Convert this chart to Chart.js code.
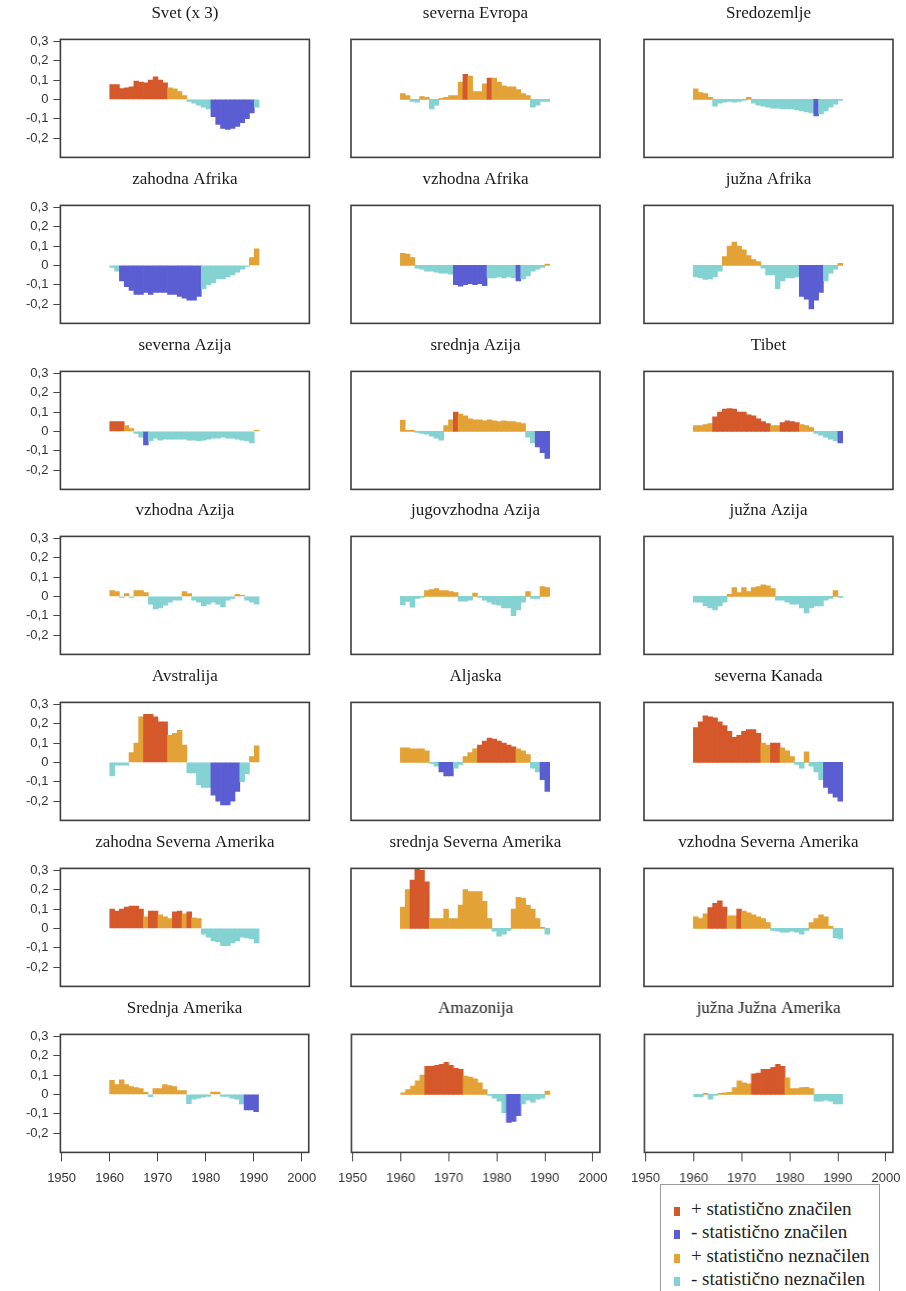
<!DOCTYPE html>
<html>
<head>
<meta charset="utf-8">
<script src="https://cdn.jsdelivr.net/npm/chart.js@4.4.1/dist/chart.umd.min.js"></script>
<style>
  body { margin: 0; background: #fff; width: 906px; height: 1291px; overflow: hidden; position: relative; }
  canvas { position: absolute; }
  #legenda { position: absolute; left: 660px; top: 1184px; width: 218px; height: 140px;
    border: 1px solid #9a9a9a; font: 19px "Liberation Serif", serif; color: #222; }
  .vrstica { position: absolute; left: 13px; height: 24px; line-height: 24px; white-space: nowrap; }
  .kvadrat { display: inline-block; width: 6px; height: 9px; margin-right: 11px; vertical-align: -1px; }
</style>
</head>
<body>
<div id="legenda"></div>
<script>
// leta (1960-1990), en stolpec na leto
const leta = [1960, 1961, 1962, 1963, 1964, 1965, 1966, 1967, 1968, 1969,
  1970, 1971, 1972, 1973, 1974, 1975, 1976, 1977, 1978, 1979,
  1980, 1981, 1982, 1983, 1984, 1985, 1986, 1987, 1988, 1989, 1990];
const xOznake = [1950, 1960, 1970, 1980, 1990, 2000];
const yOznake = [0.3, 0.2, 0.1, 0, -0.1, -0.2];

const naslovi = ["Svet (x 3)", "severna Evropa", "Sredozemlje",
  "zahodna Afrika", "vzhodna Afrika", "južna Afrika",
  "severna Azija", "srednja Azija", "Tibet",
  "vzhodna Azija", "jugovzhodna Azija", "južna Azija",
  "Avstralija", "Aljaska", "severna Kanada",
  "zahodna Severna Amerika", "srednja Severna Amerika", "vzhodna Severna Amerika",
  "Srednja Amerika", "Amazonija", "južna Južna Amerika"];

const legenda = ["+ statistično značilen", "- statistično značilen",
  "+ statistično neznačilen", "- statistično neznačilen"];

// vrednosti po letih in statistična značilnost (1 = značilno)
const svet = [0.077, 0.077, 0.056, 0.06, 0.065, 0.094, 0.09, 0.085, 0.1, 0.116, 0.1, 0.085, 0.06, 0.055, 0.04, 0.02, -0.01, -0.02, -0.03, -0.04, -0.05, -0.09, -0.13, -0.15, -0.155, -0.15, -0.14, -0.12, -0.1, -0.07, -0.04];
const svetZn = [1,1,1,1,1,1,1,1,1,1, 1,1,0,0,0,0,0,0,0,0, 0,1,1,1,1,1,1,1,1,1, 0];

const severnaEvropa = [0.03, 0.02, -0.01, -0.015, 0.015, 0.01, -0.05, -0.03, 0.005, 0.01, 0.02, 0.02, 0.09, 0.13, 0.12, 0.04, 0.04, 0.08, 0.11, 0.11, 0.09, 0.07, 0.065, 0.065, 0.05, 0.03, 0.02, -0.04, -0.03, -0.01, -0.01];
const severnaEvropaZn = [0,0,0,0,0,0,0,0,0,0, 0,0,0,1,0,0,0,0,1,0, 0,0,0,0,0,0,0,0,0,0, 0];

const sredozemlje = [0.055, 0.035, 0.03, 0.01, -0.035, -0.02, -0.015, -0.01, -0.015, -0.01, -0.005, 0.01, -0.02, -0.03, -0.035, -0.04, -0.045, -0.045, -0.05, -0.05, -0.05, -0.055, -0.06, -0.065, -0.07, -0.085, -0.075, -0.06, -0.04, -0.025, -0.005];
const sredozemljeZn = [0,0,0,0,0,0,0,0,0,0, 0,0,0,0,0,0,0,0,0,0, 0,0,0,0,0,1,0,0,0,0, 0];

const zahodnaAfrika = [-0.01, -0.03, -0.08, -0.11, -0.13, -0.15, -0.15, -0.14, -0.15, -0.14, -0.14, -0.14, -0.15, -0.15, -0.16, -0.17, -0.18, -0.18, -0.16, -0.12, -0.1, -0.09, -0.07, -0.07, -0.06, -0.05, -0.035, -0.02, -0.005, 0.04, 0.085];
const zahodnaAfrikaZn = [0,0,1,1,1,1,1,1,1,1, 1,1,1,1,1,1,1,1,1,0, 0,0,0,0,0,0,0,0,0,0, 0];

const vzhodnaAfrika = [0.062, 0.058, 0.04, -0.015, -0.02, -0.03, -0.03, -0.035, -0.04, -0.04, -0.045, -0.1, -0.107, -0.1, -0.095, -0.1, -0.095, -0.105, -0.065, -0.065, -0.06, -0.065, -0.06, -0.065, -0.08, -0.07, -0.055, -0.03, -0.02, -0.01, 0.007];
const vzhodnaAfrikaZn = [0,0,0,0,0,0,0,0,0,0, 0,1,1,1,1,1,1,1,0,0, 0,0,0,0,1,0,0,0,0,0, 0];

const juznaAfrika = [-0.06, -0.065, -0.072, -0.07, -0.06, -0.03, 0.045, 0.1, 0.12, 0.1, 0.08, 0.05, 0.03, 0.02, -0.015, -0.05, -0.05, -0.12, -0.08, -0.065, -0.065, -0.06, -0.16, -0.175, -0.225, -0.18, -0.14, -0.08, -0.04, -0.02, 0.01];
const juznaAfrikaZn = [0,0,0,0,0,0,0,0,0,0, 0,0,0,0,0,0,0,0,0,0, 0,0,1,1,1,1,1,0,0,0, 0];

const severnaAzija = [0.05, 0.05, 0.05, 0.03, 0.015, -0.01, -0.03, -0.07, -0.05, -0.035, -0.045, -0.04, -0.04, -0.04, -0.04, -0.04, -0.045, -0.045, -0.048, -0.045, -0.04, -0.035, -0.035, -0.03, -0.035, -0.035, -0.04, -0.045, -0.05, -0.06, 0.005];
const severnaAzijaZn = [1,1,1,0,0,0,0,1,0,0, 0,0,0,0,0,0,0,0,0,0, 0,0,0,0,0,0,0,0,0,0, 0];

const srednjaAzija = [0.058, 0.005, 0.005, -0.005, -0.01, -0.015, -0.025, -0.035, -0.045, 0.03, 0.06, 0.1, 0.09, 0.08, 0.065, 0.06, 0.06, 0.055, 0.06, 0.055, 0.05, 0.055, 0.05, 0.05, 0.045, 0.04, -0.03, -0.06, -0.08, -0.11, -0.14];
const srednjaAzijaZn = [0,0,0,0,0,0,0,0,0,0, 0,1,0,0,0,0,0,0,0,0, 0,0,0,0,0,0,0,0,1,1, 1];

const tibet = [0.03, 0.03, 0.035, 0.04, 0.075, 0.1, 0.115, 0.118, 0.115, 0.1, 0.1, 0.085, 0.08, 0.065, 0.05, 0.04, 0.03, 0.03, 0.045, 0.055, 0.05, 0.045, 0.035, 0.03, 0.02, -0.01, -0.02, -0.03, -0.04, -0.05, -0.06];
const tibetZn = [0,0,0,0,1,1,1,1,1,1, 1,1,1,1,1,1,0,0,1,1, 1,1,0,0,0,0,0,0,0,0, 1];

const vzhodnaAzija = [0.03, 0.025, -0.005, 0.015, -0.005, 0.03, 0.03, 0.02, -0.04, -0.065, -0.06, -0.045, -0.03, -0.02, -0.02, 0.025, 0.015, -0.02, -0.03, -0.05, -0.04, -0.03, -0.04, -0.055, -0.02, -0.01, 0.01, 0.005, -0.02, -0.03, -0.04];
const vzhodnaAzijaZn = [0,0,0,0,0,0,0,0,0,0, 0,0,0,0,0,0,0,0,0,0, 0,0,0,0,0,0,0,0,0,0, 0];

const jugovzhodnaAzija = [-0.043, -0.026, -0.056, -0.01, -0.005, 0.03, 0.035, 0.04, 0.03, 0.03, 0.025, 0.02, -0.025, -0.025, -0.02, 0.017, -0.005, -0.02, -0.03, -0.04, -0.045, -0.06, -0.06, -0.1, -0.07, -0.03, 0.025, -0.01, -0.01, 0.05, 0.045];
const jugovzhodnaAzijaZn = [0,0,0,0,0,0,0,0,0,0, 0,0,0,0,0,0,0,0,0,0, 0,0,0,0,0,0,0,0,0,0, 0];

const juznaAzija = [-0.03, -0.03, -0.05, -0.06, -0.07, -0.05, -0.03, 0.01, 0.045, 0.02, 0.045, 0.025, 0.045, 0.05, 0.06, 0.055, 0.04, -0.02, -0.02, -0.03, -0.04, -0.04, -0.06, -0.085, -0.06, -0.05, -0.05, -0.02, -0.01, 0.03, -0.005];
const juznaAzijaZn = [0,0,0,0,0,0,0,0,0,0, 0,0,0,0,0,0,0,0,0,0, 0,0,0,0,0,0,0,0,0,0, 0];

const avstralija = [-0.07, -0.015, -0.015, -0.015, 0.05, 0.1, 0.235, 0.248, 0.248, 0.235, 0.21, 0.21, 0.14, 0.15, 0.165, 0.09, -0.055, -0.055, -0.115, -0.13, -0.13, -0.17, -0.2, -0.22, -0.22, -0.2, -0.15, -0.1, -0.06, 0.03, 0.085];
const avstralijaZn = [0,0,0,0,0,0,0,1,1,1, 1,1,0,0,0,0,0,0,0,0, 0,1,1,1,1,1,1,0,0,0, 0];

const aljaska = [0.075, 0.075, 0.07, 0.07, 0.07, 0.06, -0.005, -0.02, -0.05, -0.07, -0.07, -0.03, -0.01, 0.03, 0.05, 0.07, 0.09, 0.11, 0.125, 0.12, 0.11, 0.1, 0.09, 0.08, 0.07, 0.06, 0.04, -0.03, -0.05, -0.09, -0.15];
const aljaskaZn = [0,0,0,0,0,0,0,0,1,1, 1,0,0,0,0,0,1,1,1,1, 1,1,1,1,0,0,0,0,0,1, 1];

const severnaKanada = [0.18, 0.21, 0.24, 0.235, 0.23, 0.21, 0.19, 0.16, 0.13, 0.14, 0.16, 0.17, 0.17, 0.15, 0.1, 0.09, 0.1, 0.1, 0.075, 0.06, 0.03, -0.01, -0.03, 0.055, -0.02, -0.05, -0.09, -0.13, -0.16, -0.18, -0.2];
const severnaKanadaZn = [1,1,1,1,1,1,1,1,1,1, 1,1,1,1,0,0,1,1,0,0, 0,0,0,0,0,0,0,1,1,1, 1];

const zahodnaSevernaAmerika = [0.1, 0.09, 0.1, 0.11, 0.115, 0.115, 0.1, 0.06, 0.09, 0.09, 0.07, 0.06, 0.05, 0.085, 0.09, 0.075, 0.085, 0.055, 0.05, -0.03, -0.045, -0.065, -0.07, -0.09, -0.09, -0.075, -0.065, -0.045, -0.05, -0.055, -0.075];
const zahodnaSevernaAmerikaZn = [1,1,1,1,1,1,1,0,1,1, 0,0,0,1,1,0,1,0,0,0, 0,0,0,0,0,0,0,0,0,0, 0];

const srednjaSevernaAmerika = [0.11, 0.2, 0.25, 0.31, 0.3, 0.24, 0.05, 0.05, 0.05, 0.1, 0.05, 0.05, 0.12, 0.2, 0.19, 0.19, 0.19, 0.14, 0.05, -0.015, -0.04, -0.03, -0.01, 0.1, 0.16, 0.155, 0.12, 0.1, 0.05, 0.005, -0.03];
const srednjaSevernaAmerikaZn = [0,0,1,1,1,1,0,0,0,0, 0,0,0,0,0,0,0,0,0,0, 0,0,0,0,0,0,0,0,0,0, 0];

const vzhodnaSevernaAmerika = [0.06, 0.05, 0.075, 0.108, 0.13, 0.142, 0.11, 0.065, 0.065, 0.1, 0.09, 0.08, 0.07, 0.06, 0.05, 0.03, -0.01, -0.015, -0.02, -0.02, -0.015, -0.02, -0.03, -0.01, 0.03, 0.05, 0.07, 0.06, 0.01, -0.05, -0.055];
const vzhodnaSevernaAmerikaZn = [0,0,0,1,1,1,1,0,0,1, 0,0,0,0,0,0,0,0,0,0, 0,0,0,0,0,0,0,0,0,0, 0];

const srednjaAmerika = [0.072, 0.05, 0.075, 0.05, 0.04, 0.035, 0.03, 0.01, -0.012, 0.03, 0.03, 0.05, 0.045, 0.04, 0.02, 0.02, -0.048, -0.025, -0.02, -0.015, -0.01, 0.012, 0.012, -0.01, -0.01, -0.02, -0.025, -0.05, -0.08, -0.08, -0.09];
const srednjaAmerikaZn = [0,0,0,0,0,0,0,0,0,0, 0,0,0,0,0,0,0,0,0,0, 0,0,0,0,0,0,0,0,1,1, 1];

const amazonija = [0.008, 0.025, 0.043, 0.07, 0.1, 0.145, 0.145, 0.15, 0.155, 0.165, 0.15, 0.135, 0.13, 0.095, 0.09, 0.08, 0.06, 0.025, -0.005, -0.02, -0.035, -0.095, -0.145, -0.14, -0.11, -0.05, -0.03, -0.04, -0.025, -0.02, 0.017];
const amazonijaZn = [0,0,0,0,0,1,1,1,1,1, 1,1,1,0,0,0,0,0,0,0, 0,0,1,1,1,0,0,0,0,0, 0];

const juznaJuznaAmerika = [-0.012, -0.012, 0.005, -0.025, -0.005, 0.005, 0.008, 0.01, 0.035, 0.07, 0.06, 0.055, 0.106, 0.11, 0.13, 0.13, 0.14, 0.155, 0.145, 0.085, 0.03, 0.03, 0.035, 0.037, 0.03, -0.035, -0.035, -0.03, -0.035, -0.05, -0.05];
const juznaJuznaAmerikaZn = [0,0,0,0,0,0,0,0,0,0, 0,0,1,1,1,1,1,1,1,0, 0,0,0,0,0,0,0,0,0,0, 0];

const vrednosti = [svet, severnaEvropa, sredozemlje, zahodnaAfrika, vzhodnaAfrika, juznaAfrika,
  severnaAzija, srednjaAzija, tibet, vzhodnaAzija, jugovzhodnaAzija, juznaAzija,
  avstralija, aljaska, severnaKanada, zahodnaSevernaAmerika, srednjaSevernaAmerika, vzhodnaSevernaAmerika,
  srednjaAmerika, amazonija, juznaJuznaAmerika];
const znacilnost = [svetZn, severnaEvropaZn, sredozemljeZn, zahodnaAfrikaZn, vzhodnaAfrikaZn, juznaAfrikaZn,
  severnaAzijaZn, srednjaAzijaZn, tibetZn, vzhodnaAzijaZn, jugovzhodnaAzijaZn, juznaAzijaZn,
  avstralijaZn, aljaskaZn, severnaKanadaZn, zahodnaSevernaAmerikaZn, srednjaSevernaAmerikaZn, vzhodnaSevernaAmerikaZn,
  srednjaAmerikaZn, amazonijaZn, juznaJuznaAmerikaZn];

const barve = ["#d5582b", "#5b5ed3", "#e3a236", "#84d2d2"]; // +zn, -zn, +nezn, -nezn

function barva(v, zn) {
  if (zn) return v >= 0 ? barve[0] : barve[1];
  return v >= 0 ? barve[2] : barve[3];
}

function oznakaY(v) {
  return v === 0 ? "0" : v.toFixed(1).replace(".", ",");
}

// postavitev okvirjev
const stolpciX = [60, 351, 644];
const vrsticeY = [39, 205, 371, 536, 702, 868, 1034];
const SIRINA = 249;
const VISINA = 118;

const pisavaOsi = { family: '"Liberation Sans", Arial, sans-serif', size: 13 };

// okvir okrog risalne ploskve
const okvir = {
  id: "okvir",
  afterDatasetsDraw(chart) {
    const { ctx, chartArea: a } = chart;
    ctx.save();
    ctx.strokeStyle = "#3d3d3d";
    ctx.lineWidth = 1.6;
    ctx.strokeRect(a.left, a.top, a.right - a.left, a.bottom - a.top);
    ctx.restore();
  },
};

function postavi(chart, x, y) {
  let a = chart.chartArea;
  chart.resize(chart.width + SIRINA - (a.right - a.left), chart.height + VISINA - (a.bottom - a.top));
  chart.update();
  a = chart.chartArea;
  chart.canvas.style.left = (x - a.left) + "px";
  chart.canvas.style.top = (y - a.top) + "px";
}

naslovi.forEach((naslov, i) => {
  const vrsta = Math.floor(i / 3);
  const stolpec = i % 3;
  const canvas = document.createElement("canvas");
  canvas.width = 330;
  canvas.height = 210;
  document.body.appendChild(canvas);

  const chart = new Chart(canvas, {
    type: "bar",
    data: {
      datasets: [{
        data: vrednosti[i].map((v, k) => ({ x: leta[k] + 0.5, y: v })),
        backgroundColor: vrednosti[i].map((v, k) => barva(v, znacilnost[i][k])),
        borderWidth: 0,
        barPercentage: 1,
        categoryPercentage: 1,
      }],
    },
    options: {
      responsive: false,
      maintainAspectRatio: false,
      animation: false,
      layout: { padding: { left: 4, right: 14, top: 2, bottom: 4 } },
      plugins: {
        legend: { display: false },
        tooltip: { enabled: false },
        title: {
          display: true,
          text: naslov,
          fullSize: false,
          color: "#1a1a1a",
          font: { family: '"Liberation Serif", "Times New Roman", serif', size: 17, weight: "normal" },
          padding: { top: 0, bottom: 16 },
        },
      },
      scales: {
        x: {
          type: "linear",
          min: 1949.75,
          max: 2001.45,
          offset: false,
          display: vrsta === 6,
          grid: { drawOnChartArea: false, offset: false, tickLength: 9, color: "#444" },
          border: { display: false },
          ticks: { font: pisavaOsi, color: "#333", padding: 9, maxRotation: 0, callback: (v) => String(v) },
          afterBuildTicks: (s) => { s.ticks = xOznake.map((v) => ({ value: v })); },
        },
        y: {
          min: -0.3,
          max: 0.31,
          display: stolpec === 0,
          grid: { drawOnChartArea: false, tickLength: 7, color: "#444" },
          border: { display: false },
          ticks: { font: pisavaOsi, color: "#333", padding: 5, callback: (v) => oznakaY(v) },
          afterBuildTicks: (s) => { s.ticks = yOznake.map((v) => ({ value: v })); },
        },
      },
    },
    plugins: [okvir],
  });

  postavi(chart, stolpciX[stolpec], vrsticeY[vrsta]);
});

// legenda
const legendaDiv = document.getElementById("legenda");
legenda.forEach((besedilo, i) => {
  const vrstica = document.createElement("div");
  vrstica.className = "vrstica";
  vrstica.style.top = (12 + i * 23.4) + "px";
  vrstica.innerHTML = `<span class="kvadrat" style="background:${barve[i]}"></span>${besedilo}`;
  legendaDiv.appendChild(vrstica);
});
</script>
</body>
</html>
